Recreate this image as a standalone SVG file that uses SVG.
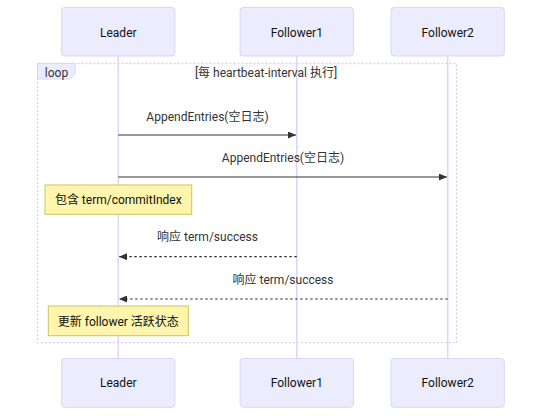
<svg xmlns="http://www.w3.org/2000/svg" width="543" height="416" viewBox="0 0 543 416">
<defs>
<style>
.actor{fill:#ECECFF;stroke:#dcd5f7;stroke-width:1}
.life{stroke:#dcd5f7;stroke-width:1.5}
.t{font-family:Roboto,"Noto Sans CJK SC","Noto Sans",sans-serif;font-size:12px;fill:#333;text-anchor:middle}
.a{fill:#111}
.msg{stroke:#333;stroke-width:1.2;fill:none}
.dash{stroke-dasharray:2.5,2.5}
.note{fill:#fff5ad;stroke:#c9c460;stroke-width:1}
.loop{fill:none;stroke:#d8d0f5;stroke-width:1.3;stroke-dasharray:2,2}
</style>
<marker id="arr" viewBox="0 0 10 10" refX="10" refY="5" markerWidth="8" markerHeight="7" markerUnits="userSpaceOnUse" orient="auto" preserveAspectRatio="none">
<path d="M0,0 L10,5 L0,10 z" fill="#333"/>
</marker>
</defs>
<rect width="543" height="416" fill="#fff"/>
<g id="lifelines">
<line class="life" x1="118.3" y1="56" x2="118.3" y2="358"/>
<line class="life" x1="296.8" y1="56" x2="296.8" y2="358"/>
<line class="life" x1="447.7" y1="56" x2="447.7" y2="358"/>
</g>
<g id="loop">
<rect class="loop" x="37.5" y="63.5" width="419" height="279.2"/>
<path d="M37.5,63.5 H75 V74 L70,79 H37.5 Z" fill="#ECECFF" stroke="#dcd5f7" stroke-width="1"/>
<text class="t" x="56.5" y="76.7">loop</text>
<text class="t" x="266" y="77">[每 heartbeat-interval 执行]</text>
</g>
<g id="actor-leader-top"><rect class="actor" x="61.6" y="7.5" width="113.3" height="48.5" rx="3"/><text class="t a" x="118.3" y="36.5">Leader</text></g>
<g id="actor-f1-top"><rect class="actor" x="240.1" y="7.5" width="113.3" height="48.5" rx="3"/><text class="t a" x="296.8" y="36.5">Follower1</text></g>
<g id="actor-f2-top"><rect class="actor" x="391" y="7.5" width="113.3" height="48.5" rx="3"/><text class="t a" x="447.7" y="36.5">Follower2</text></g>
<g id="actor-leader-bottom"><rect class="actor" x="61.6" y="358.5" width="113.3" height="48.8" rx="3"/><text class="t a" x="118.3" y="387.3">Leader</text></g>
<g id="actor-f1-bottom"><rect class="actor" x="240.1" y="358.5" width="113.3" height="48.8" rx="3"/><text class="t a" x="296.8" y="387.3">Follower1</text></g>
<g id="actor-f2-bottom"><rect class="actor" x="391" y="358.5" width="113.3" height="48.8" rx="3"/><text class="t a" x="447.7" y="387.3">Follower2</text></g>
<g id="connectors">
<line class="msg" x1="118.3" y1="135" x2="296" y2="135" marker-end="url(#arr)"/>
<text class="t" x="207.5" y="120.5">AppendEntries(空日志)</text>
<line class="msg" x1="118.3" y1="177" x2="447" y2="177" marker-end="url(#arr)"/>
<text class="t" x="283" y="162">AppendEntries(空日志)</text>
<line class="msg dash" x1="296.8" y1="256.7" x2="119" y2="256.7" marker-end="url(#arr)"/>
<text class="t" x="207.5" y="241">响应 term/success</text>
<line class="msg dash" x1="447.7" y1="299" x2="119" y2="299" marker-end="url(#arr)"/>
<text class="t" x="283" y="283.5">响应 term/success</text>
</g>
<g id="note1"><rect class="note" x="45" y="185" width="146.7" height="29.3"/><text class="t a" x="118.3" y="204.3">包含 term/commitIndex</text></g>
<g id="note2"><rect class="note" x="48.3" y="306" width="140" height="29.7"/><text class="t a" x="118.3" y="326">更新 follower 活跃状态</text></g>
</svg>
